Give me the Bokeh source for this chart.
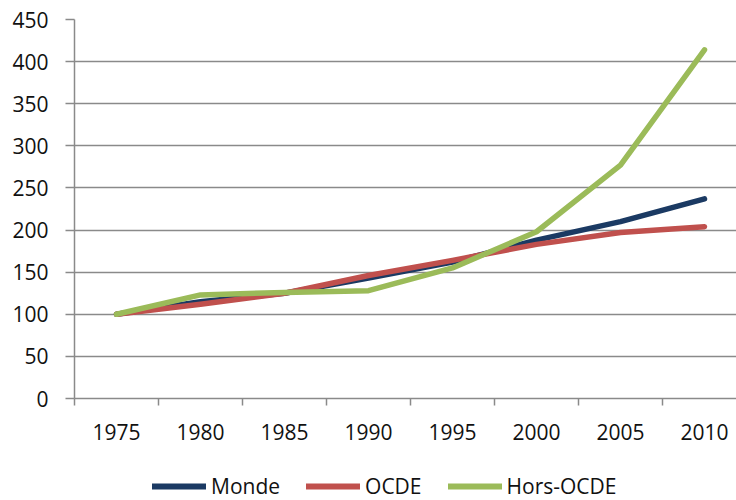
from bokeh.plotting import figure
from bokeh.models import Range1d, FixedTicker, Legend, LegendItem
from bokeh.layouts import column
from bokeh.embed import file_html
from bokeh.resources import INLINE

years = ["1975", "1980", "1985", "1990", "1995", "2000", "2005", "2010"]
monde = [100, 115, 125, 143, 162, 188, 210, 237]
ocde = [100, 112, 125, 146, 164, 183, 197, 204]
hors_ocde = [100, 123, 126, 128, 155, 198, 277, 414]
y_ticks = [0, 50, 100, 150, 200, 250, 300, 350, 400, 450]
series = [("Monde", monde, "#1b3a63"), ("OCDE", ocde, "#c0504d"),
          ("Hors-OCDE", hors_ocde, "#9bbb59")]

xs = list(range(len(years)))
FONT = "Open Sans"
GRID = "#8a8a8a"
TXT = "#111111"
FS = "21px"

p = figure(width=736, height=456, output_backend="svg", toolbar_location=None,
           x_range=Range1d(-0.5, 7.381), y_range=Range1d(0, 450),
           min_border_left=74, min_border_right=0, min_border_top=19,
           min_border_bottom=58)
p.outline_line_color = None
p.background_fill_color = "white"
p.border_fill_color = "white"

p.xgrid.visible = False
p.ygrid.grid_line_color = GRID
p.ygrid.grid_line_width = 1.5
p.ygrid.ticker = FixedTicker(ticks=y_ticks)

# x axis
p.xaxis.ticker = FixedTicker(ticks=xs, minor_ticks=[i - 0.5 for i in range(len(years) + 1)])
p.xaxis.major_label_overrides = {i: y for i, y in enumerate(years)}
p.xaxis.major_tick_line_color = None
p.xaxis.major_tick_out = 0
p.xaxis.major_tick_in = 0
p.xaxis.minor_tick_line_color = GRID
p.xaxis.minor_tick_line_width = 1.5
p.xaxis.minor_tick_out = 7
p.xaxis.minor_tick_in = 0
p.xaxis.axis_line_color = GRID
p.xaxis.axis_line_width = 1.5
p.xaxis.major_label_standoff = 18
p.xaxis.major_label_text_font = FONT
p.xaxis.major_label_text_font_size = FS
p.xaxis.major_label_text_color = TXT

# y axis
p.yaxis.ticker = FixedTicker(ticks=y_ticks)
p.yaxis.minor_tick_line_color = None
p.yaxis.major_tick_line_color = GRID
p.yaxis.major_tick_line_width = 1.5
p.yaxis.major_tick_out = 9
p.yaxis.major_tick_in = 0
p.yaxis.axis_line_color = GRID
p.yaxis.axis_line_width = 1.5
p.yaxis.major_label_standoff = 17
p.yaxis.major_label_text_font = FONT
p.yaxis.major_label_text_font_size = FS
p.yaxis.major_label_text_color = TXT

for name, vals, col in series:
    p.line(xs, vals, line_color=col, line_width=5.5, line_cap="round", line_join="round")

# legend strip below (same series, ranges chosen so only the legend shows)
lg = figure(width=736, height=44, output_backend="svg", toolbar_location=None,
            x_range=Range1d(100, 101), y_range=Range1d(1000, 1001),
            min_border_left=0, min_border_right=0, min_border_top=0,
            min_border_bottom=0)
lg.axis.visible = False
lg.grid.visible = False
lg.outline_line_color = None
items = []
for name, vals, col in series:
    r = lg.line(xs, vals, line_color=col, line_width=6, line_cap="round")
    items.append(LegendItem(label=name, renderers=[r]))
legend = Legend(items=items, orientation="horizontal", location=(78, 0),
                glyph_width=54, glyph_height=22, label_standoff=5, spacing=26,
                padding=0, margin=0, border_line_color=None,
                background_fill_alpha=0,
                label_text_font=FONT, label_text_font_size=FS,
                label_text_color=TXT, label_height=22)
lg.add_layout(legend, "center")

open("out.html", "w").write(file_html(column(p, lg, spacing=0), INLINE))
